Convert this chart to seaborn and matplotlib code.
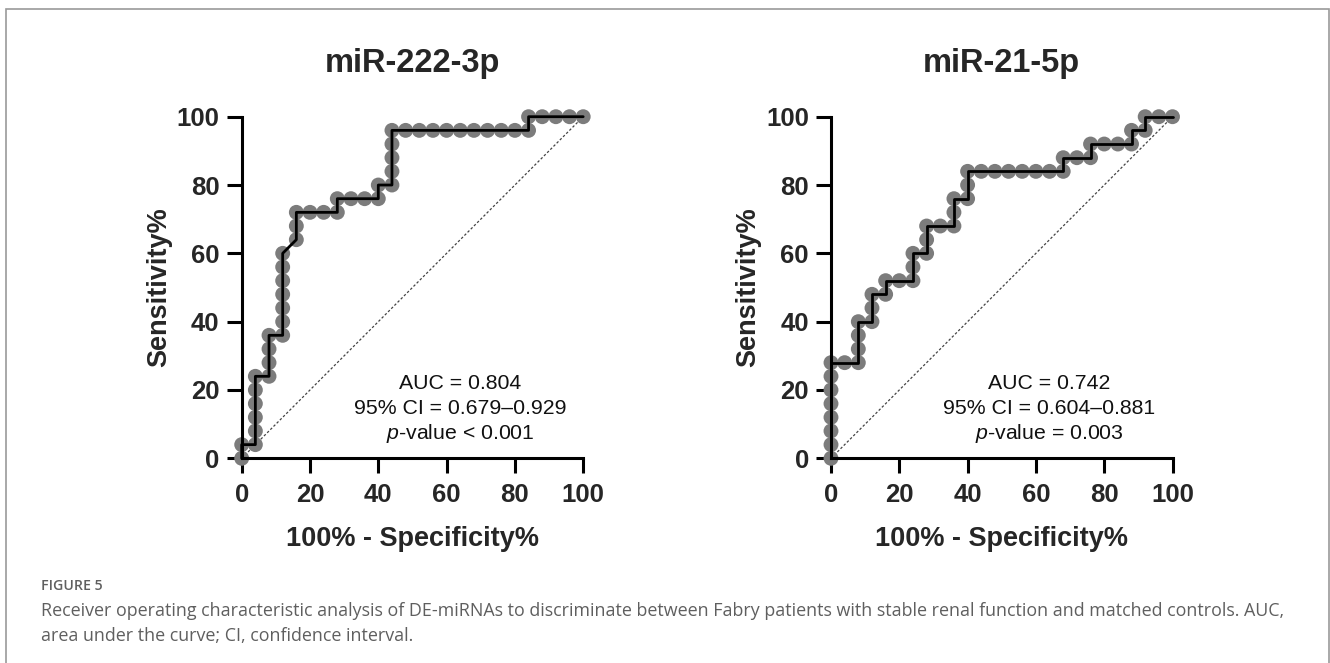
import matplotlib
matplotlib.use("Agg")
import matplotlib.pyplot as plt
import matplotlib.patches as mpatches
import pandas as pd
import seaborn as sns

# ROC coordinates (100% - specificity, sensitivity), in plotting order
fpr_222 = [0, 0, 4, 4, 4, 4, 4, 4, 8, 8, 8, 8, 12, 12, 12, 12, 12, 12, 12,
           16, 16, 16, 20, 24, 28, 28, 32, 36, 40, 40, 44, 44, 44, 44, 44,
           48, 52, 56, 60, 64, 68, 72, 76, 80, 84, 84, 88, 92, 96, 100]
sens_222 = [0, 4, 4, 8, 12, 16, 20, 24, 24, 28, 32, 36, 36, 40, 44, 48, 52, 56, 60,
            64, 68, 72, 72, 72, 72, 76, 76, 76, 76, 80, 80, 84, 88, 92, 96,
            96, 96, 96, 96, 96, 96, 96, 96, 96, 96, 100, 100, 100, 100, 100]

fpr_21 = [0, 0, 0, 0, 0, 0, 0, 0, 4, 8, 8, 8, 8, 12, 12, 12, 16, 16, 20, 24,
          24, 24, 28, 28, 28, 32, 36, 36, 36, 40, 40, 40, 44, 48, 52, 56, 60,
          64, 68, 68, 72, 76, 76, 80, 84, 88, 88, 92, 92, 96, 100]
sens_21 = [0, 4, 8, 12, 16, 20, 24, 28, 28, 28, 32, 36, 40, 40, 44, 48, 48, 52, 52, 52,
           56, 60, 60, 64, 68, 68, 68, 72, 76, 76, 80, 84, 84, 84, 84, 84, 84,
           84, 84, 88, 88, 88, 92, 92, 92, 92, 96, 96, 100, 100, 100]

titles = ["miR-222-3p", "miR-21-5p"]
stats = [
    ["AUC = 0.804", "95% CI = 0.679\u20130.929", r"$\it{p}$-value < 0.001"],
    ["AUC = 0.742", "95% CI = 0.604\u20130.881", r"$\it{p}$-value = 0.003"],
]
ticks = [0, 20, 40, 60, 80, 100]
caption_head = "FIGURE 5"
caption_body = ("Receiver operating characteristic analysis of DE-miRNAs to discriminate between "
                "Fabry patients with stable renal function and matched controls. AUC,\n"
                "area under the curve; CI, confidence interval.")

sns.set_theme(style="ticks")
plt.rcParams["font.family"] = ["Liberation Sans", "DejaVu Sans"]
plt.rcParams["mathtext.fontset"] = "custom"
plt.rcParams["mathtext.it"] = "Liberation Sans:italic"
plt.rcParams["mathtext.rm"] = "Liberation Sans"

fig = plt.figure(figsize=(13.3, 6.63), dpi=100)
W, H = 1330, 663

# Outer frame of the figure panel
fig.patches.append(mpatches.Rectangle((6 / W, -0.1), 1323 / W, 1.1 - 9 / H,
                                      transform=fig.transFigure, fill=False,
                                      edgecolor="#9a9a9a", linewidth=1.2))

curves = [(fpr_222, sens_222), (fpr_21, sens_21)]
lefts = [241.7, 831.0]

for i, ((fx, sy), left) in enumerate(zip(curves, lefts)):
    ax = fig.add_axes([left / W, 1 - 458.3 / H, 341.5 / W, 341.6 / H])
    df = pd.DataFrame({"fpr": fx, "sens": sy})

    ax.plot([0, 100], [0, 100], color="#444444", linewidth=0.9,
            linestyle=(0, (2, 1.6)), zorder=1)
    sns.scatterplot(data=df, x="fpr", y="sens", ax=ax, s=115, color="#7c7c7c",
                    edgecolor="none", linewidth=0, zorder=2, clip_on=False)
    sns.lineplot(data=df, x="fpr", y="sens", ax=ax, sort=False, estimator=None,
                 color="black", linewidth=2.0, zorder=3, clip_on=False)

    ax.set_xlim(0, 100)
    ax.set_ylim(0, 100)
    ax.set_xticks(ticks)
    ax.set_yticks(ticks)
    ax.set_xticklabels([str(t) for t in ticks], fontsize=18.5, fontweight="bold")
    ax.set_yticklabels([str(t) for t in ticks], fontsize=18.5, fontweight="bold")
    ax.tick_params(axis="both", direction="out", length=11, width=2.2, color="black")
    ax.tick_params(axis="x", pad=7)
    ax.tick_params(axis="y", pad=5)
    for side in ("top", "right"):
        ax.spines[side].set_visible(False)
    for side in ("left", "bottom"):
        ax.spines[side].set_linewidth(2.2)
        ax.spines[side].set_color("black")
        ax.spines[side].set_capstyle("projecting")

    ax.set_xlabel("100% - Specificity%", fontsize=19.5, fontweight="bold", labelpad=13.5)
    ax.set_ylabel("Sensitivity%", fontsize=19.5, fontweight="bold", labelpad=3)
    ax.set_title(titles[i], fontsize=23.5, fontweight="bold", pad=32)

    for j, line in enumerate(stats[i]):
        ax.text(64, [22.0, 14.7, 7.4][j], line, ha="center", va="center",
                fontsize=15.3, color="#111111")

fig.text(41 / W, 1 - 586 / H, caption_head, fontsize=10.2, color="#5f5f5f",
         family=["Open Sans", "DejaVu Sans"], fontweight="semibold", va="center")
fig.text(41 / W, 1 - 602 / H, caption_body, fontsize=12.9, color="#5f5f5f",
         family=["Open Sans", "DejaVu Sans"], va="top", linespacing=1.47)

fig.savefig("out.png", dpi=100)
